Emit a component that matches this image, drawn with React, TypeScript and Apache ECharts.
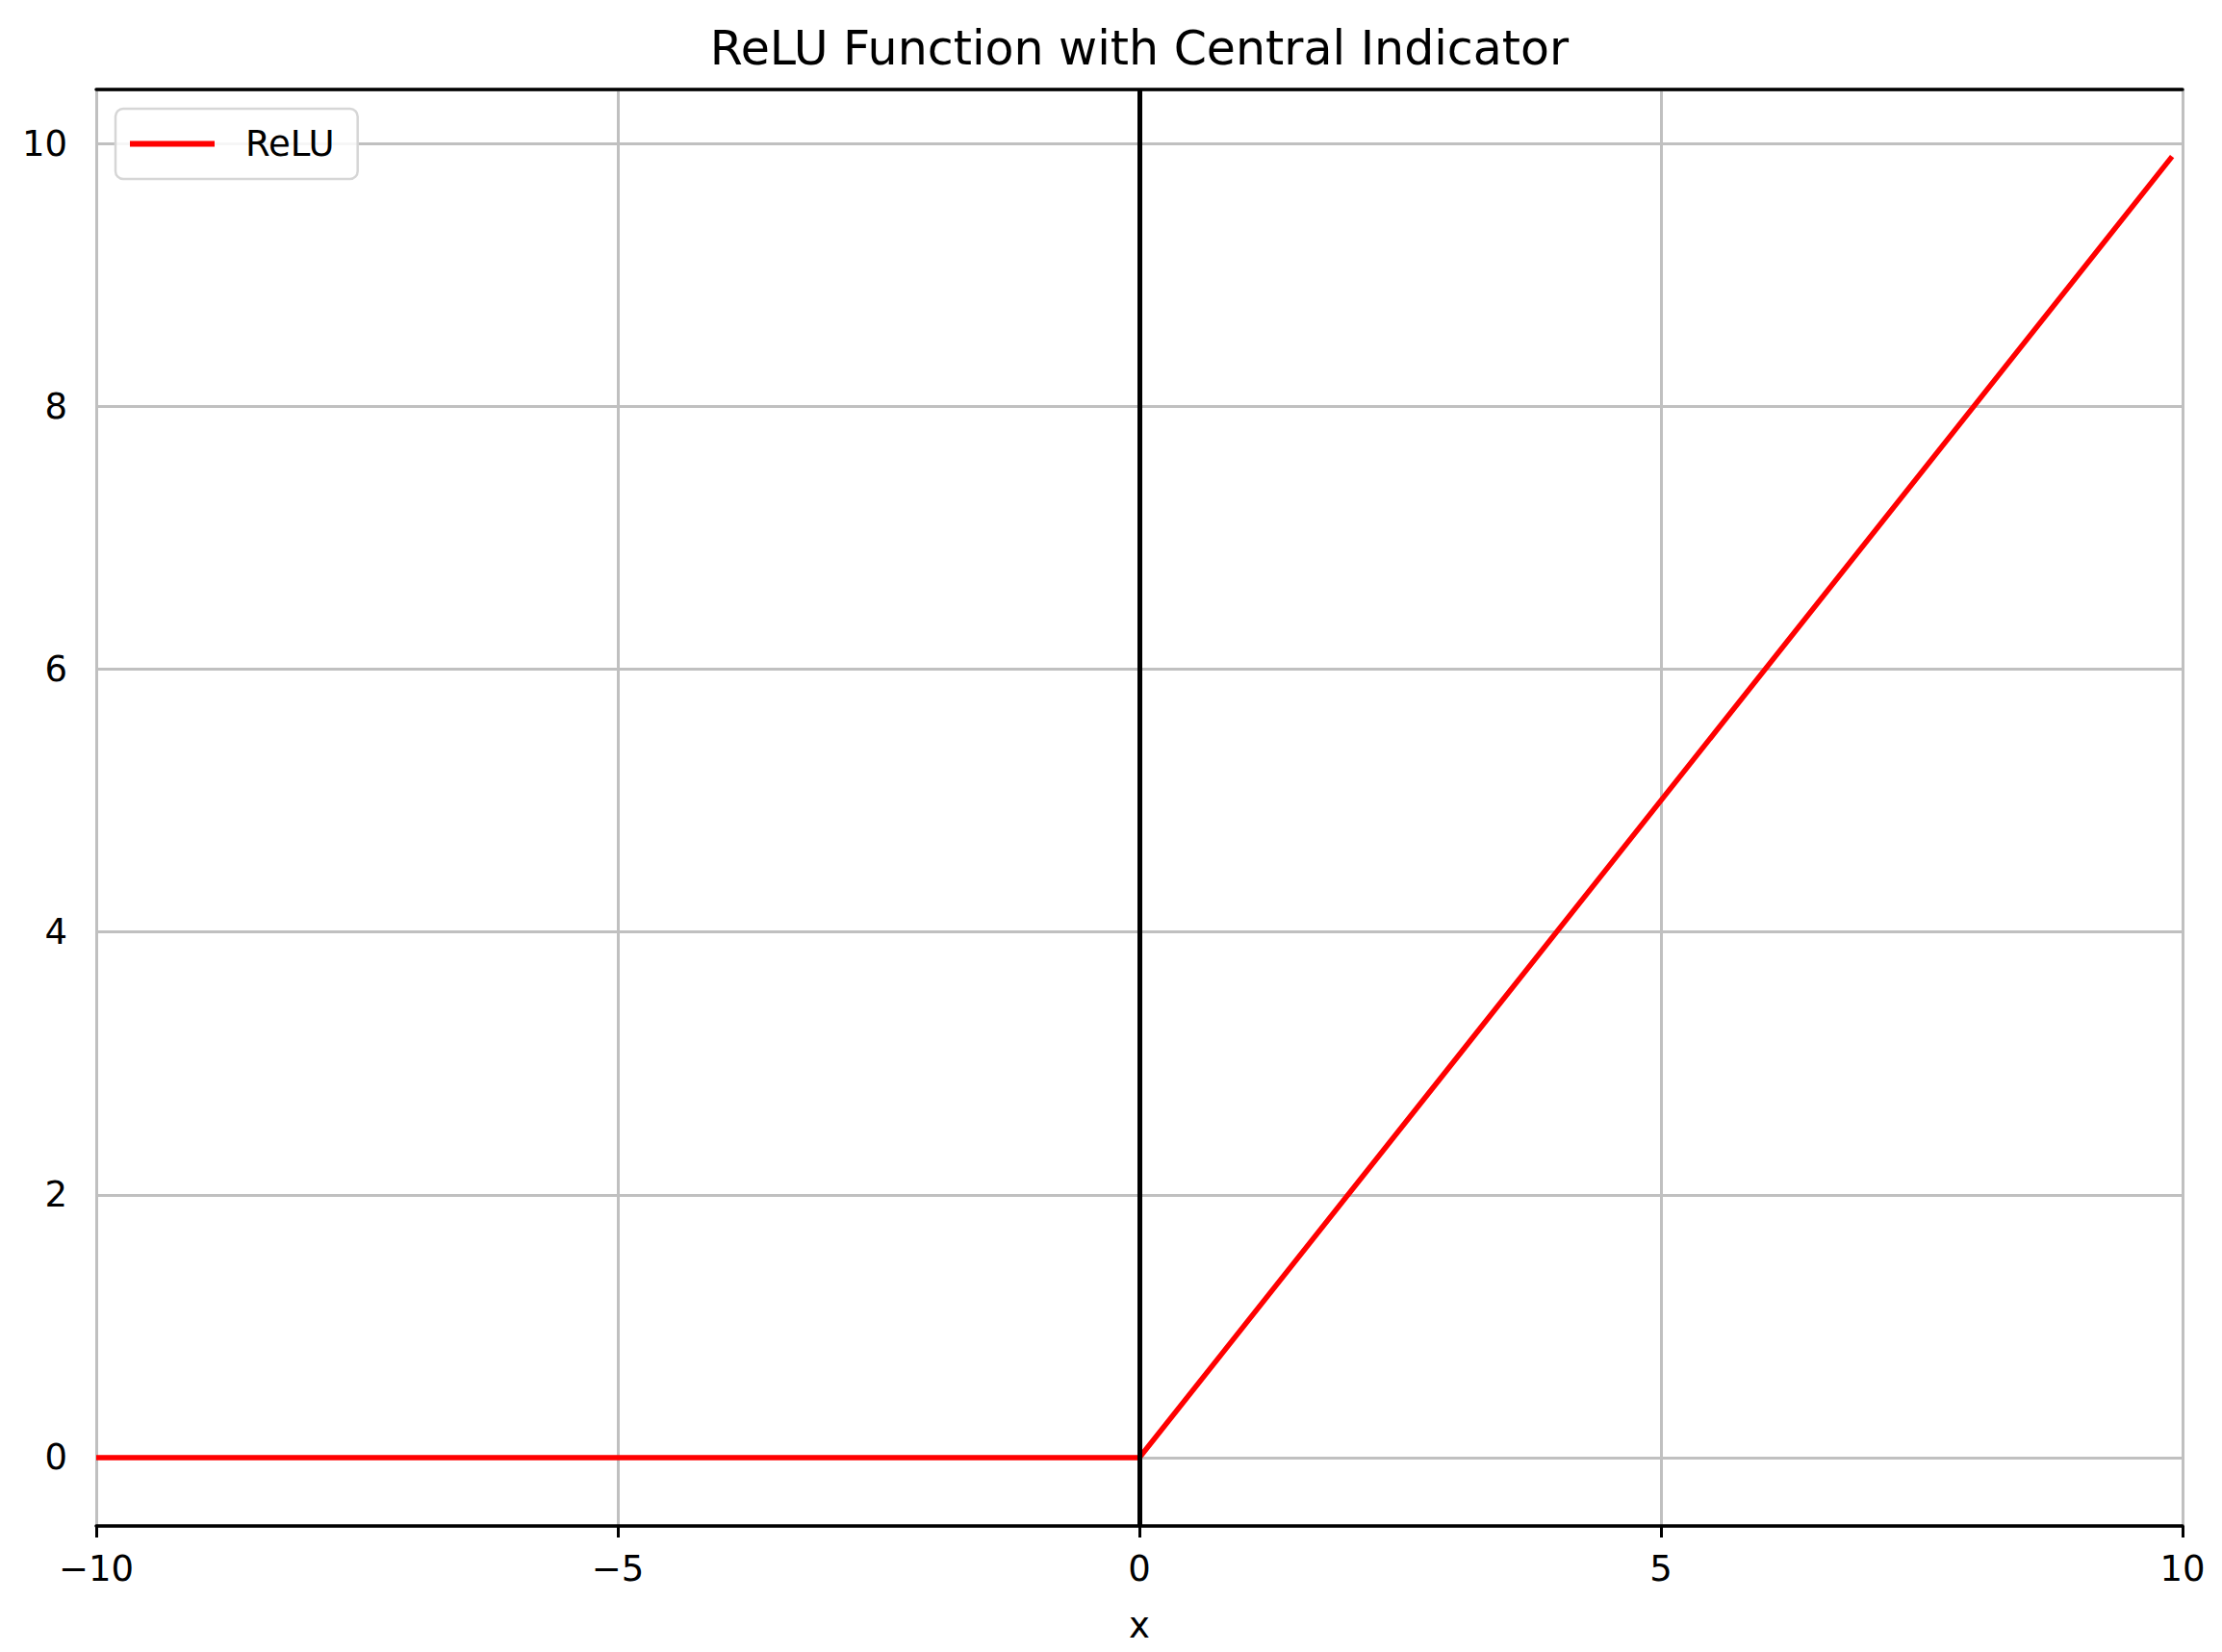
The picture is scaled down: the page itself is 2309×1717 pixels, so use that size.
import React, { useEffect, useRef } from "react";
import * as echarts from "echarts";

const xValues = [-10, 0, 9.9];
const reluValues = [0, 0, 9.9];
const indicatorX = [0];
const xTicks = { min: -10, max: 10, interval: 5 };
const yRange = { min: -0.52, max: 10.41 };
const titleText = "ReLU Function with Central Indicator";
const seriesName = "ReLU";
const xAxisName = "x";

const FONT = "DejaVu Sans";

export default function App() {
  const ref = useRef<HTMLDivElement>(null);
  useEffect(() => {
    document.body.style.margin = "0";
    const chart = echarts.init(ref.current!, null, { renderer: "svg" });
    const fmtX = (v: number) => (v < 0 ? "\u2212" + Math.abs(v) : String(v));
    chart.setOption({
      animation: false,
      backgroundColor: "#ffffff",
      title: {
        text: titleText,
        left: 1184,
        textAlign: "center",
        top: 26,
        padding: 0,
        textStyle: { fontFamily: FONT, fontSize: 49, fontWeight: "normal", color: "#000" },
      },
      legend: {
        left: 120,
        top: 113,
        orient: "vertical",
        data: [{ name: seriesName, icon: "rect" }],
        itemWidth: 88,
        itemHeight: 6,
        padding: [18, 24, 18, 15],
        backgroundColor: "rgba(255,255,255,0.85)",
        borderColor: "#d6d6d6",
        borderWidth: 2.5,
        borderRadius: 8,
        textStyle: { fontFamily: FONT, fontSize: 37, color: "#000", padding: [0, 0, 0, 27] },
      },
      grid: { left: 100, right: 41, top: 93, bottom: 131, containLabel: false },
      xAxis: [
        {
          type: "value",
          min: xTicks.min,
          max: xTicks.max,
          interval: xTicks.interval,
          position: "bottom",
          name: xAxisName,
          nameLocation: "middle",
          nameGap: 85,
          nameTextStyle: { fontFamily: FONT, fontSize: 37, color: "#000" },
          axisLine: { show: true, onZero: false, lineStyle: { color: "#000", width: 3.5 } },
          axisTick: { show: true, length: 12, lineStyle: { color: "#000", width: 3 } },
          axisLabel: { fontFamily: FONT, fontSize: 37, color: "#000", margin: 26, formatter: fmtX },
          splitLine: { show: true, lineStyle: { color: "#c0c0c0", width: 3 } },
        },
        {
          type: "value",
          min: xTicks.min,
          max: xTicks.max,
          interval: xTicks.interval,
          position: "top",
          axisLine: { show: true, onZero: false, lineStyle: { color: "#000", width: 3.5 } },
          axisTick: { show: false },
          axisLabel: { show: false },
          splitLine: { show: false },
        },
      ],
      yAxis: {
        type: "value",
        min: yRange.min,
        max: yRange.max,
        splitNumber: 5,
        axisLine: { show: false },
        axisTick: { show: false },
        axisLabel: {
          fontFamily: FONT,
          fontSize: 37,
          color: "#000",
          margin: 30,
          showMinLabel: false,
          showMaxLabel: false,
          formatter: (v: number) => (Math.abs(v % 2) < 1e-9 ? String(v) : ""),
        },
        splitLine: { show: true, lineStyle: { color: "#c0c0c0", width: 3 } },
      },
      series: [
        {
          name: seriesName,
          type: "line",
          xAxisIndex: 0,
          showSymbol: false,
          symbol: "none",
          data: xValues.map((x, i) => [x, reluValues[i]]),
          lineStyle: { color: "#ff0000", width: 5.5 },
          itemStyle: { color: "#ff0000" },
          markLine: {
            silent: true,
            symbol: ["none", "none"],
            label: { show: false },
            lineStyle: { color: "#000", width: 5, type: "solid" },
            data: indicatorX.map((v) => ({ xAxis: v })),
          },
        },
      ],
    });
    return () => chart.dispose();
  }, []);
  return <div ref={ref} style={{ width: 2309, height: 1717 }} />;
}
